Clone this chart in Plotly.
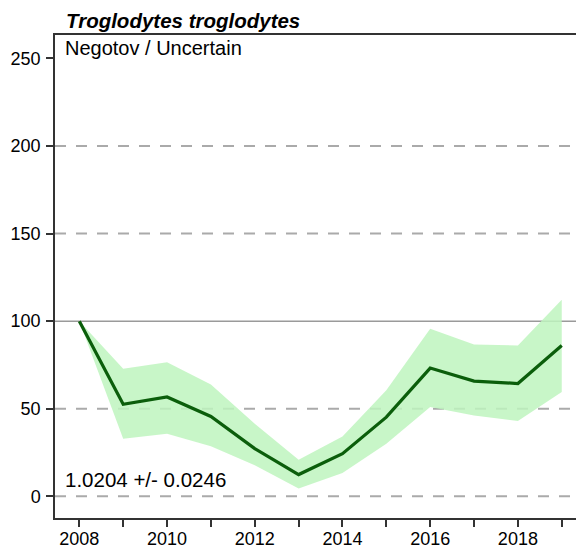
import plotly.graph_objects as go

years = list(range(2008, 2020))
index_vals = [100, 52.5, 56.7, 45.6, 27.2, 12.4, 24.3, 45.2, 73.2, 65.8, 64.4, 86.1]
upper_vals = [100, 72.8, 76.6, 63.9, 41.4, 20.9, 34.2, 60.5, 95.6, 86.7, 86.1, 112.2]
lower_vals = [100, 32.9, 35.7, 28.5, 17.7, 4.4, 13.3, 30.0, 51.0, 46.2, 43.0, 59.5]
y_ticks = [0, 50, 100, 150, 200, 250]
dashed_levels = [0, 50, 150, 200]
x_labels = [str(y) if y % 2 == 0 else "" for y in years]

title_text = "Troglodytes troglodytes"
subtitle_text = "Negotov / Uncertain"
trend_text = "1.0204 +/- 0.0246"

FONT = "Liberation Sans, Arial, sans-serif"

fig = go.Figure()
fig.add_trace(go.Scatter(x=years, y=upper_vals, mode="lines", line=dict(width=0),
                         hoverinfo="skip", showlegend=False))
fig.add_trace(go.Scatter(x=years, y=lower_vals, mode="lines", line=dict(width=0),
                         fill="tonexty", fillcolor="rgba(190,245,190,0.85)",
                         hoverinfo="skip", showlegend=False))
fig.add_trace(go.Scatter(x=years, y=index_vals, mode="lines",
                         line=dict(color="#0b5e0b", width=3.2), showlegend=False))

for lv in dashed_levels:
    fig.add_hline(y=lv, line=dict(color="#aaaaaa", width=2, dash="11px,10px"), layer="below")
fig.add_hline(y=100, line=dict(color="#9a9a9a", width=1.5), layer="below")

fig.add_annotation(text="<b><i>" + title_text + "</i></b>", xref="paper", yref="paper",
                   x=0, y=1.0, xanchor="left", yanchor="bottom", showarrow=False,
                   font=dict(family=FONT, size=20.5, color="black"), xshift=9, yshift=1)
fig.add_annotation(text=subtitle_text, xref="paper", yref="paper",
                   x=0, y=1.0, xanchor="left", yanchor="top", showarrow=False,
                   font=dict(family=FONT, size=20, color="black"), xshift=8, yshift=0)
fig.add_annotation(text=trend_text, xref="paper", yref="y",
                   x=0, y=9.4, xanchor="left", yanchor="middle", showarrow=False,
                   font=dict(family=FONT, size=20.5, color="black"), xshift=8)

fig.update_layout(
    width=584, height=549,
    margin=dict(l=47, r=0, t=27, b=39),
    paper_bgcolor="white", plot_bgcolor="white",
    font=dict(family=FONT, size=18, color="black"),
    xaxis=dict(range=[2007.445, 2019.69], tickvals=years, ticktext=x_labels,
               showgrid=False, zeroline=False, showline=True, linecolor="#333333",
               linewidth=1.5, mirror=True, ticks="outside", ticklen=7, tickwidth=2,
               tickcolor="#333333", tickfont=dict(size=18), ticklabelstandoff=-3),
    yaxis=dict(range=[-12.4, 263.4], tickvals=y_ticks, showgrid=False, zeroline=False,
               showline=True, linecolor="#333333", linewidth=1.5, ticks="outside",
               ticklen=7, tickwidth=2, tickcolor="#333333", tickfont=dict(size=18),
               ticklabelstandoff=2),
)

fig.write_html("out.html")
